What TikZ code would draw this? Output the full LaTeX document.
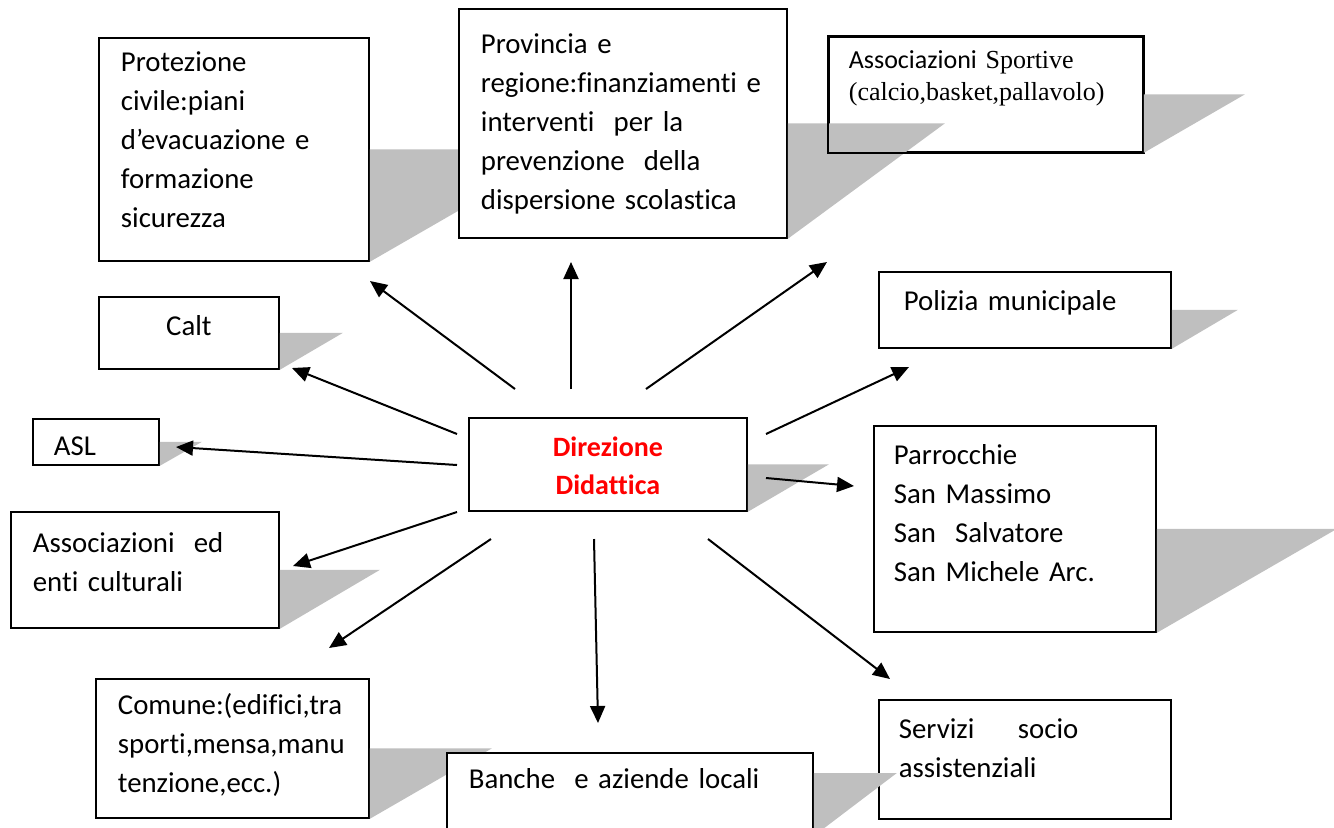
\documentclass[tikz,border=0pt]{standalone}
\usepackage{fontspec}
\setmainfont{Carlito}[Ligatures=NoCommon]
\newfontfamily\timesfont{Liberation Serif}
\usetikzlibrary{arrows.meta,calc}

\tikzset{
  ente/.style={draw, line width=0.9pt, fill=white, anchor=north west, align=left,
    inner ysep=0pt, font=\fontsize{14.4}{19.4}\selectfont},
  ombra/.style={fill=black!25, draw=none},
  freccia/.style={-{Triangle[length=8.5pt,width=7.5pt]}, line width=1pt},
}

\begin{document}
\begin{tikzpicture}[x=0.5pt, y=-0.5pt]
\useasboundingbox (0,0) rectangle (1334,827);
\clip (0,0) rectangle (1334,827);

% top row
\node[ente, text width=113pt, text height=17pt, text depth=94.5pt, inner xsep=11pt] (prot) at (98,37)
  {Protezione\\civile:piani\\d’evacuazione e\\formazione\\sicurezza};
\fill[ombra] (prot.south east) -- (prot.east) -- ++(195,0) -- cycle;
\node[ente, text width=137pt, text height=16pt, text depth=41.5pt, inner xsep=10pt,
  font=\fontsize{13}{16}\selectfont] (sport) at (828,36)
  {Associazioni {\timesfont Sportive}\\{\timesfont (calcio,basket,pallavolo)}};
\node[ente, text width=142pt, text height=22.5pt, text depth=92pt, inner xsep=11pt] (prov) at (458,8)
  {Provincia e\\regione:finanziamenti~e\\interventi\ \ per la\\prevenzione\ \ della\\dispersione scolastica};
\fill[ombra] (prov.south east) -- (prov.east) -- ++(157,0) -- cycle;
\draw[line width=0.9pt] (sport.south west) rectangle (sport.north east);
\fill[ombra] (sport.south east) -- (sport.east) -- ++(101,0) -- cycle;

% left column
\node[ente, text width=90pt, text height=19.5pt, text depth=16.5pt, inner xsep=0pt, align=center] (calt) at (98,296) {Calt};
\fill[ombra] (calt.south east) -- (calt.east) -- ++(63,0) -- cycle;
\node[ente, text width=42pt, text height=18.5pt, text depth=4.5pt, inner xsep=10.5pt] (asl) at (32,418) {ASL};
\fill[ombra] (asl.south east) -- (asl.east) -- ++(42,0) -- cycle;
\node[ente, text width=112pt, text height=20.5pt, text depth=37.5pt, inner xsep=11pt] (assoc) at (10,511)
  {Associazioni\ \ ed\\enti culturali};
\fill[ombra] (assoc.south east) -- (assoc.east) -- ++(100,0) -- cycle;
\node[ente, text width=114.5pt, text height=18pt, text depth=51.5pt, inner xsep=11pt] (comune) at (95,678)
  {Comune:(edifici,tra\\sporti,mensa,manu\\tenzione,ecc.)};
\fill[ombra] (comune.south east) -- (comune.east) -- ++(122,0) -- cycle;

% centre
\node[ente, text width=139pt, text height=19.5pt, text depth=27pt, inner xsep=0pt, align=center, text=red,
  font=\fontsize{14}{19}\selectfont\bfseries] (dir) at (468,417) {Direzione\\Didattica};
\fill[ombra] (dir.south east) -- (dir.east) -- ++(81,0) -- cycle;

% right column
\node[ente, text width=121pt, text height=19.5pt, text depth=18.5pt, inner xsep=12.5pt] (pol) at (878,271) {Polizia municipale};
\fill[ombra] (pol.south east) -- (pol.east) -- ++(66,0) -- cycle;
\node[ente, text width=121pt, text height=19.5pt, text depth=83.5pt, inner xsep=10pt] (parr) at (873,425)
  {Parrocchie\\San Massimo\\San\ \ Salvatore\\San Michele Arc.};
\fill[ombra] (parr.south east) -- (parr.east) -- ++(180,0) -- cycle;
\node[ente, text width=126pt, text height=19.5pt, text depth=40pt, inner xsep=10pt] (serv) at (878,699)
  {Servizi\hspace{17pt} socio\\assistenziali};

% bottom
\node[ente, text width=161pt, text height=18pt, text depth=37pt, inner xsep=11pt] (banche) at (446,752)
  {Banche\ \ e aziende locali};
\fill[ombra] ($(banche.north east)+(0,21)$) -- ++(83,0) -- ($(banche.north east)+(0,84)$) -- cycle;

% arrows
\foreach \n/\ax/\ay/\bx/\by in {prot/515/389/370/281, prov/571/389/571/262, sport/646/389/827/262,
  pol/766/434/909/367, parr/766/478/854/486, serv/708/539/890/679, banche/594/539/598/723,
  comune/491/539/329/648, assoc/457/512/293/566, asl/457/465/176/447, calt/457/434/292/368}
{
  \coordinate (\n-da) at (\ax,\ay);
  \coordinate (\n-a) at (\bx,\by);
  \draw[freccia] (\n-da) -- (\n-a);
}
\end{tikzpicture}
\end{document}
